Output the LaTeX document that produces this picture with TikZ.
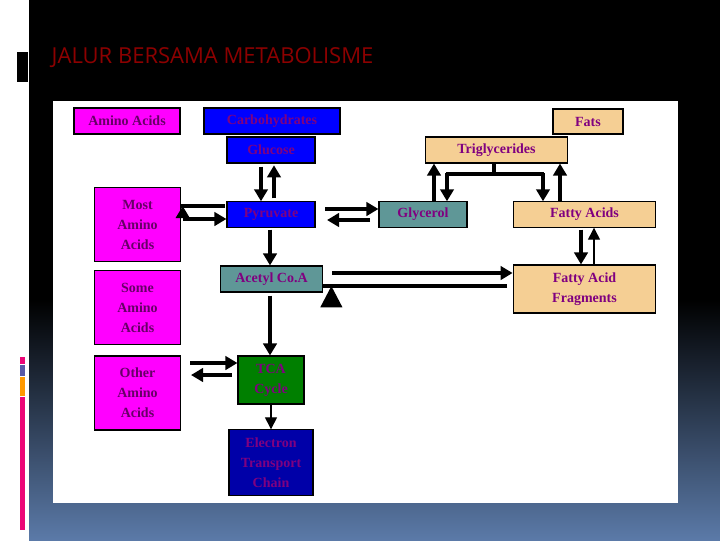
\documentclass[tikz,border=0pt]{standalone}
\usepackage{fontspec}
\setmainfont{Liberation Serif}
\newfontfamily\titlefont{Open Sans}
\usetikzlibrary{arrows.meta}
\definecolor{mag}{HTML}{FF00FF}
\definecolor{blu}{HTML}{0000FF}
\definecolor{tan}{HTML}{F5CF94}
\definecolor{teal2}{HTML}{5F9797}
\definecolor{grn}{HTML}{007F00}
\definecolor{dblu}{HTML}{0000A8}
\definecolor{txt}{HTML}{800080}
\definecolor{bg}{HTML}{5B7AA8}
\begin{document}
\begin{tikzpicture}[x=0.75pt,y=-0.75pt,
 box/.style={draw=black,line width=0.8pt,inner sep=0pt,align=center,font=\fontsize{10.5pt}{15pt}\selectfont\bfseries,text=txt},
 aa/.style={box,fill=mag,text=txt!80!black},
 cb/.style={box,fill=blu},
 ft/.style={box,fill=tan},
 arr/.style={line width=2.4pt,-{Triangle[length=9pt,width=10pt]}},
 thin/.style={line width=1pt,-{Triangle[length=9pt,width=9pt]}},
 big/.style={line width=2.4pt,-{Triangle[length=16pt,width=16pt]}}]
\useasboundingbox (0,0) rectangle (720,540);
\fill[white] (0,0) rectangle (720,540);
\fill[black] (29,0) rectangle (720,300);
\shade[top color=black,bottom color=bg] (29,299) rectangle (720,540);
\fill[black] (17,52) rectangle (28,82);
\fill[magenta!80!red] (20,357) rectangle (25,364);
\fill[gray!70!blue] (20,365) rectangle (25,376);
\fill[orange!80!yellow] (20,377) rectangle (25,396);
\fill[magenta!80!red] (20,397) rectangle (25,530);
\node[anchor=west,font=\titlefont\fontsize{16.5pt}{18pt}\selectfont,text=red!55!black] (title) at (47,58) {JALUR BERSAMA METABOLISME};
\fill[white] (53,101) rectangle (678,503);
% boxes
\node[aa,minimum width=79.5pt,minimum height=19.5pt] (aa) at (127,121) {Amino Acids};
\node[cb,minimum width=102pt,minimum height=19.5pt] (carb) at (272,121) {Carbohydrates};
\node[ft,minimum width=52.5pt,minimum height=18.75pt] (fats) at (588,121.5) {Fats};
\node[cb,minimum width=66pt,minimum height=19.5pt] (glu) at (271,150) {Glucose};
\node[ft,minimum width=107pt,minimum height=19.5pt] (tri) at (496.5,150) {Triglycerides};
\node[aa,minimum width=64pt,minimum height=56pt] (most) at (137.5,224.5) {Most\\Amino\\Acids};
\node[cb,minimum width=66pt,minimum height=19pt] (pyr) at (271,214.5) {Pyruvate};
\node[box,fill=teal2,minimum width=66pt,minimum height=19pt] (gly) at (423,214.5) {Glycerol};
\node[ft,minimum width=107pt,minimum height=19pt] (fa) at (584.5,214.5) {Fatty Acids};
\node[aa,minimum width=64pt,minimum height=56pt] (some) at (137.5,307.5) {Some\\Amino\\Acids};
\node[box,fill=teal2,minimum width=77pt,minimum height=19.5pt] (acoa) at (271.5,279) {Acetyl Co.A};
\node[ft,minimum width=107pt,minimum height=36pt] (faf) at (584.5,289) {Fatty Acid\\Fragments};
\node[aa,minimum width=64pt,minimum height=55.5pt] (other) at (137.5,393) {Other\\Amino\\Acids};
\node[box,fill=grn,minimum width=49.5pt,minimum height=36pt] (tca) at (271,380) {TCA\\Cycle};
\node[box,fill=dblu,minimum width=63pt,minimum height=49pt] (etc) at (271,462.5) {Electron\\Transport\\Chain};
% arrows
\draw[arr] (261,0 |- glu.south) ++(0,3) -- (261,0 |- pyr.north) ;
\draw[arr] (274,0 |- pyr.north) ++(0,-3) -- ++(0,-33);
\draw[arr] (225,206) -- (most.east |- 0,206) ++(2,0);
\draw[arr] (183,219) -- (pyr.west |- 0,219);
\draw[arr] (325,209) -- (gly.west |- 0,209);
\draw[arr] (370,220) -- (327,220);
\draw[arr] (270,0 |- pyr.south) ++(0,2) -- (270,0 |- acoa.north);
\draw[arr] (434,0 |- gly.north) -- (434,0 |- tri.south);
\draw[line width=2.4pt] (494,0 |- tri.south) -- (494,174);
\draw[line width=2.4pt] (446,174) -- (544,174);
\draw[arr] (447,173) -- (447,0 |- gly.north);
\draw[arr] (543,173) -- (543,0 |- fa.north);
\draw[arr] (560,0 |- fa.north) -- (560,0 |- tri.south);
\draw[arr] (581,0 |- fa.south) ++(0,2) -- (581,0 |- faf.north);
\draw[thin] (594,0 |- faf.north) -- (594,0 |- fa.south);
\draw[arr] (332,273) -- (faf.west |- 0,273);
\draw[big] (507,286) -- (acoa.east |- 0,286) ++(8,0);
\draw[arr] (270,0 |- acoa.south) ++(0,3) -- (270,0 |- tca.north);
\draw[arr] (190,363) -- (tca.west |- 0,363);
\draw[arr] (232,375) -- (191,375);
\draw[thin] (271,0 |- tca.south) -- (271,0 |- etc.north);
\end{tikzpicture}
\end{document}
